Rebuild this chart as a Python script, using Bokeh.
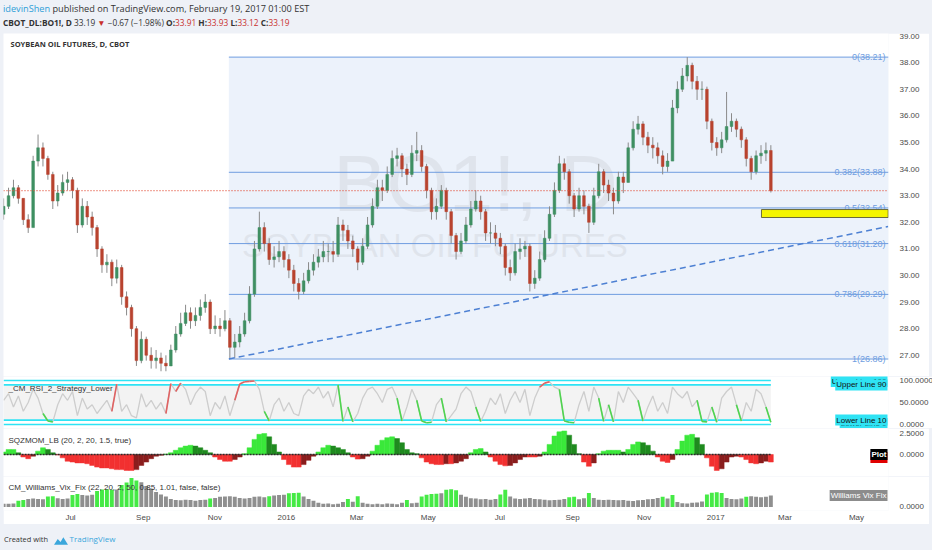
import pandas as pd
from bokeh.plotting import figure
from bokeh.models import (ColumnDataSource, Range1d, FixedTicker, NumeralTickFormatter,
                          Label, Div, Span, Column)
from bokeh.embed import file_html
from bokeh.resources import INLINE
from bokeh.core.properties import value

# ---------------- data ----------------
first_open = 32.3
close = [32.6,33.0,33.3,32.9,32.1,31.8,34.3,34.8,34.4,33.8,
         32.8,33.1,33.5,33.6,33.2,31.9,32.6,32.2,31.8,31.0,
         30.4,30.5,29.9,30.3,29.2,28.8,28.0,26.8,27.6,27.0,
         26.8,26.9,26.7,26.6,27.2,27.8,28.2,28.6,28.3,28.5,
         28.8,29.0,28.0,28.1,28.0,28.3,27.3,27.5,27.8,28.3,
         29.3,31.0,31.8,31.2,30.6,30.7,30.9,30.6,30.2,29.7,
         29.4,29.8,30.2,30.5,30.7,30.9,30.9,30.8,31.9,31.7,
         31.3,31.0,30.5,31.1,31.9,32.6,33.3,33.2,33.8,34.4,
         34.5,34.0,33.8,34.6,34.7,34.1,33.2,32.4,32.6,33.2,
         32.4,31.5,30.9,31.3,31.9,32.5,32.8,32.4,31.6,31.6,
         31.4,31.1,30.3,30.1,30.9,31.0,31.1,29.7,29.9,30.6,
         31.4,32.3,33.2,34.2,33.9,33.0,32.5,33.0,32.6,32.0,
         33.0,33.9,33.4,33.1,32.8,33.7,33.5,34.8,35.5,35.7,
         35.2,34.9,34.8,34.5,34.1,34.3,36.3,37.0,37.5,37.9,
         37.3,37.0,37.0,35.8,35.0,34.8,35.1,35.6,35.8,35.5,
         35.1,34.4,33.9,34.5,34.6,34.7,33.19]
high = [32.9,33.3,33.6,33.4,32.9,32.3,34.5,35.3,35.0,34.5,
        33.9,33.4,33.8,33.9,33.7,33.3,32.9,32.8,32.4,31.9,
        31.1,30.8,30.6,30.6,30.4,29.4,28.9,28.1,27.9,27.7,
        27.3,27.2,27.1,27.0,27.4,28.1,28.6,28.9,28.8,28.8,
        29.1,29.3,29.1,28.5,28.4,28.7,28.4,27.8,28.1,28.6,
        29.6,31.3,32.4,32.0,31.4,31.1,31.3,31.1,30.8,30.4,
        29.9,30.1,30.5,30.8,31.0,31.3,31.2,31.3,32.2,32.1,
        31.9,31.5,31.1,31.4,32.2,32.9,33.6,33.6,34.1,34.7,
        34.8,34.6,34.2,34.9,35.4,34.9,34.2,33.3,32.9,33.4,
        33.3,32.5,31.6,31.6,32.2,32.8,33.2,33.0,32.5,32.0,
        31.9,31.6,31.2,30.6,31.2,31.4,31.3,31.2,30.2,30.9,
        31.7,32.6,33.5,34.5,34.4,34.0,33.1,33.3,33.2,32.7,
        33.3,34.2,34.0,33.6,33.3,33.9,33.9,35.0,35.8,36.0,
        35.8,35.4,35.2,35.0,34.7,34.6,36.6,37.3,37.8,38.21,
        38.0,37.5,37.3,37.1,35.9,35.2,35.4,36.9,36.1,35.9,
        35.6,35.2,34.5,34.7,34.9,35.0,34.9]
low = [32.1,32.5,32.9,32.7,31.9,31.6,31.8,34.1,34.1,33.6,
       32.5,32.6,33.0,33.2,32.9,31.6,31.8,31.9,31.5,30.7,
       30.1,30.1,29.6,29.7,28.9,28.5,27.7,26.6,26.7,26.8,
       26.5,26.5,26.4,26.4,26.6,27.1,27.7,28.1,28.0,28.1,
       28.3,28.6,27.8,27.8,27.7,27.9,26.86,26.9,27.3,27.7,
       28.2,29.2,30.9,30.9,30.4,30.3,30.5,30.3,29.9,29.4,
       29.1,29.3,29.7,30.0,30.3,30.5,30.5,30.5,30.7,31.3,
       31.0,30.7,30.2,30.4,31.0,31.8,32.5,32.8,33.1,33.7,
       34.1,33.7,33.4,33.7,34.3,33.9,32.9,32.1,32.1,32.5,
       32.1,31.2,30.6,30.8,31.2,31.8,32.4,32.1,31.3,31.2,
       31.1,30.8,30.0,29.8,30.0,30.6,30.7,29.4,29.5,29.8,
       30.5,31.3,32.2,33.1,33.6,32.7,32.2,32.4,32.3,31.6,
       31.9,32.9,33.1,32.8,32.3,32.7,33.1,33.5,34.7,35.3,
       34.9,34.6,34.4,34.2,33.8,33.9,34.3,36.1,36.9,37.3,
       37.0,36.6,36.6,35.5,34.7,34.5,34.6,35.0,35.4,35.2,
       34.8,34.1,33.6,33.8,34.2,34.3,33.12]
rsi2 = [55,70,40,65,30,50,80,60,25,8,
        6,45,70,55,75,20,60,35,45,25,
        40,55,30,92,30,45,20,15,70,40,
        55,35,50,25,93,75,94,80,45,70,
        85,75,20,50,35,65,20,55,92,97,
        98,99,80,30,8,45,60,30,50,25,
        20,65,80,70,85,60,75,40,90,7,
        40,6,25,60,80,85,70,50,80,85,
        60,8,40,80,55,8,4,5,45,60,
        6,20,35,70,85,75,40,7,30,60,
        45,70,25,55,75,50,80,20,60,85,
        94,97,85,80,8,5,4,45,75,30,
        85,60,7,45,6,75,50,85,70,55,
        8,40,65,30,50,25,85,70,60,75,
        40,55,7,6,40,5,60,75,85,45,
        8,50,30,80,70,40,5]
sqz = [0.3,0.6,0.6,0.2,-0.3,-0.5,-0.2,0.4,0.8,0.6,
       0.2,-0.05,-0.4,-0.8,-0.9,-1.0,-1.0,-1.1,-1.3,-1.5,
       -1.6,-1.6,-1.7,-1.8,-1.8,-1.9,-1.9,-1.8,-1.3,-0.9,
       -0.5,-0.2,-0.1,0.05,0.2,0.5,0.8,1.0,1.1,1.0,
       0.8,0.5,0.2,-0.3,-0.6,-0.8,-0.8,-0.6,-0.3,0.1,
       0.8,1.8,2.4,2.5,2.1,1.2,0.3,-0.6,-1.2,-1.5,
       -1.5,-1.2,-0.7,-0.2,0.3,0.8,1.1,1.0,0.8,0.6,
       0.2,-0.3,-0.55,-0.5,-0.2,0.4,1.1,1.7,2.0,2.1,
       1.9,1.4,0.6,0.2,0.1,-0.4,-0.9,-1.1,-1.2,-1.2,
       -1.1,-1.1,-1.0,-0.8,-0.5,0.2,0.6,0.7,0.3,-0.3,
       -0.8,-1.2,-1.35,-1.3,-1.0,-0.6,-0.3,-0.3,-0.3,-0.2,
       0.3,1.2,2.2,2.7,2.8,2.3,1.2,0.1,-0.9,-1.4,
       -1.0,0.1,0.4,0.5,0.5,0.5,0.3,0.6,1.2,1.5,
       1.4,1.1,0.4,-0.3,-0.8,-0.95,-0.6,0.6,1.6,2.3,
       2.4,2.0,1.2,-0.4,-1.4,-1.9,-1.7,-0.9,-0.3,-0.2,
       -0.3,-0.6,-1.0,-1.1,-1.0,-0.8,-0.9]
wvf = [0.9,0.9,1.0,1.8,2.0,2.3,2.4,2.3,2.2,3.0,
       3.1,2.5,2.3,2.4,3.4,3.7,3.4,3.3,3.5,4.6,
       5.0,5.1,4.9,5.0,6.3,7.0,8.3,7.6,7.1,6.0,
       5.2,4.3,3.6,3.0,2.3,2.0,1.9,2.1,2.0,1.8,
       2.0,2.1,2.4,2.6,2.9,3.0,3.1,2.9,2.6,2.4,
       2.6,2.9,3.0,2.8,3.1,3.3,3.4,3.5,3.9,4.0,
       4.1,3.0,2.3,1.8,1.2,0.9,1.0,0.8,0.9,1.4,
       2.3,1.5,3.1,1.2,0.9,0.8,0.9,0.8,1.0,0.9,
       0.8,1.2,2.0,1.1,1.2,3.0,3.5,3.7,3.8,3.9,
       4.9,5.1,4.8,3.5,2.9,2.5,2.4,2.2,2.3,2.1,
       2.3,3.6,4.9,3.0,2.4,2.3,2.4,2.6,2.3,2.2,
       2.1,1.9,2.0,2.1,2.3,2.8,2.9,2.2,2.5,4.0,
       2.6,2.1,2.0,2.1,2.0,1.9,2.0,1.8,1.7,1.9,
       2.0,2.2,2.3,2.6,2.9,2.4,3.4,1.4,1.1,1.0,
       1.2,1.3,1.6,3.6,4.1,4.2,4.0,2.6,2.3,2.2,
       2.4,2.9,3.1,2.9,2.8,2.9,3.3]
wvf_alert = [0,0,0,1,1,0,0,0,0,1,
             1,0,0,0,1,1,0,0,0,1,
             1,1,1,0,1,1,1,1,0,0,
             0,0,0,0,0,0,0,0,0,0,
             0,0,1,0,0,0,0,0,0,0,
             0,0,0,0,1,0,0,0,1,1,
             1,0,0,0,0,0,0,0,0,0,
             1,0,1,0,0,0,0,0,0,0,
             0,0,1,0,0,1,1,1,1,0,
             1,1,1,0,0,0,0,0,0,0,
             0,1,1,0,0,0,0,0,0,0,
             0,0,0,0,0,1,1,0,0,1,
             0,0,0,0,0,0,0,0,0,0,
             0,0,0,0,1,0,1,0,0,0,
             0,0,0,1,1,1,1,0,0,0,
             0,1,0,0,0,0,0]

first_date, last_date = "2015-05-05", "2017-02-17"
price_ticks = [27, 28, 29, 30, 31, 32, 33, 34, 35, 36, 37, 38, 39]
rsi_ticks = [0, 50, 100]
rsi_levels = [100, 90, 10, 0]
sqz_ticks = [0, 2.5]
wvf_ticks = [0]
fib_ratios = [0, 0.382, 0.5, 0.618, 0.786, 1]
fib_prices = [38.21, 33.88, 32.54, 31.20, 29.29, 26.86]
fib_start = "2015-11-13"
trend_dates = ["2015-11-13", "2017-05-28"]
trend_prices = [26.86, 31.84]
zone_dates = ["2017-02-09", "2017-05-28"]
zone_prices = [32.18, 32.48]
tick_dates = ["2015-07-01", "2015-09-01", "2015-11-01", "2016-01-01", "2016-03-01", "2016-05-01",
              "2016-07-01", "2016-09-01", "2016-11-01", "2017-01-01", "2017-03-01", "2017-05-01"]
tick_labels = ["Jul", "Sep", "Nov", "2016", "Mar", "May", "Jul", "Sep", "Nov", "2017", "Mar", "May"]
day_change, day_pct = "−0.67", "(−1.98%)"
day_open, day_high, day_low = 33.91, 33.93, 33.12

# ---------------- derived ----------------
def ms(t):
    return pd.Timestamp(t).value / 1e6

n = len(close)
dates = pd.date_range(first_date, last_date, periods=n)
step_ms = (dates[1] - dates[0]).total_seconds() * 1000
opens = [first_open] + close[:-1]
X0 = pd.Timestamp("2015-05-04 21:30")
X1 = pd.Timestamp("2017-05-28 07:00")
xr = Range1d(start=X0, end=X1)

FONT = "Liberation Sans"
AX_COL = "#4a4a4a"
BG = "#eef1f7"


def pane(fh, y0, y1, bottom_axis=False):
    p = figure(frame_width=885, frame_height=fh, x_range=xr, y_range=Range1d(y0, y1),
               x_axis_type="datetime", y_axis_location="right",
               x_axis_location="below" if bottom_axis else None,
               output_backend="svg", toolbar_location=None,
               min_border_left=0, min_border_top=0, min_border_right=41,
               min_border_bottom=13 if bottom_axis else 0, margin=(0, 0, 0, 3))
    p.background_fill_color = "white"
    p.border_fill_color = "white"
    p.outline_line_color = None
    p.grid.grid_line_color = None
    ya = p.yaxis[0]
    ya.axis_line_color = None
    ya.major_tick_line_color = None
    ya.minor_tick_line_color = None
    ya.major_label_text_font_size = "8px"
    ya.major_label_text_color = AX_COL
    ya.major_label_text_font = FONT
    ya.major_label_standoff = 5
    return p


def title_label(p, y, text, x=5):
    p.add_layout(Label(x=x, y=y, x_units="screen", y_units="data", text=text,
                       text_font_size="8px", text_color="#333333", text_font=FONT,
                       text_baseline="middle"))


def box_label(p, y, text, bg, fg="#111111", bold=False, y_offset=0, x_offset=-1, align="right"):
    p.add_layout(Label(x=ms(X1), y=y, x_offset=x_offset, y_offset=y_offset, text=text,
                       text_align=align, text_baseline="middle", text_font_size="8px",
                       text_font=FONT, text_color=fg,
                       text_font_style="bold" if bold else "normal",
                       background_fill_color=bg, padding=1))


# ---------------- main price pane ----------------
main = pane(343, 26.203, 39.098)
main.yaxis[0].ticker = FixedTicker(ticks=price_ticks)
main.yaxis[0].formatter = NumeralTickFormatter(format="0.00")

main.quad(left=[pd.Timestamp(fib_start)], right=[X1], bottom=[fib_prices[-1]], top=[fib_prices[0]],
          fill_color="#e6edf9", fill_alpha=0.75, line_color=None)
xc1 = X0 + (X1 - X0) * (472 / 885)
xc2 = X0 + (X1 - X0) * (432 / 885)
main.text(x=[xc1], y=[33.45], text=["BO1!, D"], text_font=value(FONT), text_font_size="80px",
          text_color="#d5d9e0", text_alpha=0.55, text_align="center", text_baseline="middle")
main.text(x=[xc2], y=[31.13], text=["SOYBEAN OIL FUTURES"], text_font=value(FONT),
          text_font_size="33px", text_color="#d5d9e0", text_alpha=0.55,
          text_align="center", text_baseline="middle")
main.segment(x0=[pd.Timestamp(fib_start)] * len(fib_prices), x1=[X1] * len(fib_prices),
             y0=fib_prices, y1=fib_prices, line_color="#6f9de0", line_width=1)
main.text(x=[X1] * len(fib_prices), y=fib_prices,
          text=[f"{r:g}({p:.2f})" for r, p in zip(fib_ratios, fib_prices)],
          x_offset=-3, text_align="right", text_baseline="middle", text_font=value(FONT),
          text_font_size="9px", text_color="#6f9de0")

up_col, dn_col = "#3f8f62", "#b8432f"
cols = [up_col if c >= o else dn_col for o, c in zip(opens, close)]
csrc = ColumnDataSource(dict(d=dates, o=opens, c=close, h=high, l=low,
                             top=[max(o, c) for o, c in zip(opens, close)],
                             bot=[min(o, c) for o, c in zip(opens, close)], col=cols))
main.segment(x0="d", y0="h", x1="d", y1="l", source=csrc, line_color="#8a8a8a", line_width=1)
main.vbar(x="d", width=step_ms * 0.55, top="top", bottom="bot", source=csrc,
          fill_color="col", line_color="col", line_width=0.5)

main.line(x=[pd.Timestamp(t) for t in trend_dates], y=trend_prices, line_color="#4d80d3",
          line_width=1.5, line_dash="6 4")
main.quad(left=[pd.Timestamp(zone_dates[0])], right=[pd.Timestamp(zone_dates[1])],
          bottom=[zone_prices[0]], top=[zone_prices[1]], fill_color="#f5f500",
          line_color="#6b6b3a", line_width=1)
main.add_layout(Span(location=close[-1], dimension="width", line_color="#e2553f",
                     line_dash="1 2", line_width=1.3))
box_label(main, close[-1], f"{close[-1]:.2f}", "#d9483b", fg="white", x_offset=2, align="left")
main.add_layout(Label(x=7, y=38.72, x_units="screen", text="SOYBEAN OIL FUTURES, D, CBOT",
                      text_font_size="7.5px", text_font_style="bold", text_color="#333333",
                      text_font="Open Sans", text_baseline="middle"))

# ---------------- RSI pane ----------------
rsi = pane(52, -9.1, 109.1)
rsi.yaxis[0].ticker = FixedTicker(ticks=rsi_ticks)
rsi.yaxis[0].formatter = NumeralTickFormatter(format="0.0000")
rsi.quad(left=[dates[0]], right=[dates[-1]], bottom=[rsi_levels[2]], top=[rsi_levels[1]],
         fill_color="#f3f3f3", line_color=None)
rsi.segment(x0=[dates[0]] * 4, x1=[dates[-1]] * 4, y0=rsi_levels, y1=rsi_levels,
            line_color="#2fe3f4", line_width=1.6)
rsi.line(x=dates, y=rsi2, line_color="#cdcdcd", line_width=1.3)
seg = dict(x0=[], y0=[], x1=[], y1=[], col=[])
for i in range(n - 1):
    if rsi2[i + 1] < 10 or rsi2[i + 1] > 90:
        seg["x0"].append(dates[i]); seg["y0"].append(rsi2[i])
        seg["x1"].append(dates[i + 1]); seg["y1"].append(rsi2[i + 1])
        seg["col"].append("#4fd44f" if rsi2[i + 1] < 10 else "#e06363")
rsi.segment(x0="x0", y0="y0", x1="x1", y1="y1", line_color="col", line_width=1.6,
            source=ColumnDataSource(seg))
title_label(rsi, 81.8, "_CM_RSI_2_Strategy_Lower")
box_label(rsi, 100, "Upper Line 100", "#2fe3f4", y_offset=-1)
box_label(rsi, 90, "Upper Line 90", "#2fe3f4")
box_label(rsi, 0, "Lower Line 0", "#2fe3f4", y_offset=1)
box_label(rsi, 10, "Lower Line 10", "#2fe3f4")

# ---------------- SQZMOM pane ----------------
sq = pane(48, -2.62, 3.095)
sq.yaxis[0].ticker = FixedTicker(ticks=sqz_ticks)
sq.yaxis[0].formatter = NumeralTickFormatter(format="0.0000")
scol = []
for i, v in enumerate(sqz):
    prev = sqz[i - 1] if i > 0 else 0
    if v > 0:
        scol.append("#3ae83a" if v >= prev else "#1f8a1f")
    else:
        scol.append("#f23030" if v <= prev else "#8a1d1d")
sq.vbar(x=dates, width=step_ms, top=sqz, bottom=0, fill_color=scol, line_color=scol, line_width=0.5)
sq.line(x=[dates[0], dates[-1]], y=[0, 0], line_color="#2a2a2a", line_width=1.5, line_dash="2 1")
title_label(sq, 1.67, "SQZMOM_LB (20, 2, 20, 1.5, true)")
box_label(sq, 0, "Plot", "#e00000", fg="#e00000", bold=True, y_offset=-3)
box_label(sq, 0, "Plot", "#000000", fg="white", bold=True)

# ---------------- Williams Vix Fix pane ----------------
vx = pane(34, -1.0, 8.71, bottom_axis=True)
vx.yaxis[0].ticker = FixedTicker(ticks=wvf_ticks)
vx.yaxis[0].formatter = NumeralTickFormatter(format="0.0000")
vcol = ["#45ea45" if a else "#8f8f8f" for a in wvf_alert]
vx.vbar(x=dates, width=step_ms * 0.8, top=wvf, bottom=0, fill_color=vcol, line_color=None)
title_label(vx, 5.57, "CM_Williams_Vix_Fix (22, 20, 2, 50, 0.85, 1.01, false, false)")
box_label(vx, 3.3, "Williams Vix Fix", "#8c8c8c", fg="white")

xa = vx.xaxis[0]
tick_ms = [ms(d) for d in tick_dates]
xa.ticker = FixedTicker(ticks=tick_ms)
xa.major_label_overrides = {t: lab for t, lab in zip(tick_ms, tick_labels)}
xa.axis_line_color = None
xa.major_tick_line_color = None
xa.minor_tick_line_color = None
xa.major_tick_out = 0
xa.major_tick_in = 0
xa.major_label_text_font_size = "8px"
xa.major_label_text_color = AX_COL
xa.major_label_text_font = FONT
xa.major_label_standoff = 2

# ---------------- header / footer ----------------
red = "#c9302c"
header = Div(text=(
    f'<div style="font-family:\'Open Sans\';color:#333;line-height:13px;'
    f'padding:1px 0 0 3px;white-space:nowrap">'
    f'<span style="font-size:9.2px"><span style="color:#2e9fd8">idevinShen</span> published on '
    f'TradingView.com, February 19, 2017 01:00 EST</span><br>'
    f'<span style="font-size:8.3px"><b>CBOT_DL:BO1!, D</b> {close[-1]:.2f} '
    f'<span style="color:{red}">&#9660;</span> {day_change} {day_pct} '
    f'<b>O:</b><span style="color:{red}">{day_open:.2f}</span> '
    f'<b>H:</b><span style="color:{red}">{day_high:.2f}</span> '
    f'<b>L:</b><span style="color:{red}">{day_low:.2f}</span> '
    f'<b>C:</b><span style="color:{red}">{close[-1]:.2f}</span></span></div>'),
    width=932, height=33, margin=0, styles={"background-color": BG, "overflow": "hidden"})
footer = Div(text=(
    '<div style="font-family:\'Open Sans\';font-size:7.4px;color:#333;padding:9px 0 0 4px;white-space:nowrap">'
    'Created with &nbsp;&nbsp;<svg width="14" height="9" viewBox="0 0 15 9" style="vertical-align:middle">'
    '<path d="M0 9 L4 3 L7 6 L10 1 L15 9 Z" fill="#3ba7dc"/></svg>'
    '&nbsp;<span style="color:#3ba7dc;font-size:8px">TradingView</span></div>'),
    width=932, height=27, margin=0, styles={"background-color": BG, "overflow": "hidden"})

page = Column(children=[header, main, rsi, sq, vx, footer], spacing=0,
              styles={"position": "absolute", "left": "0px", "top": "0px",
                      "background-color": BG})

open("out.html", "w").write(file_html(page, INLINE))
